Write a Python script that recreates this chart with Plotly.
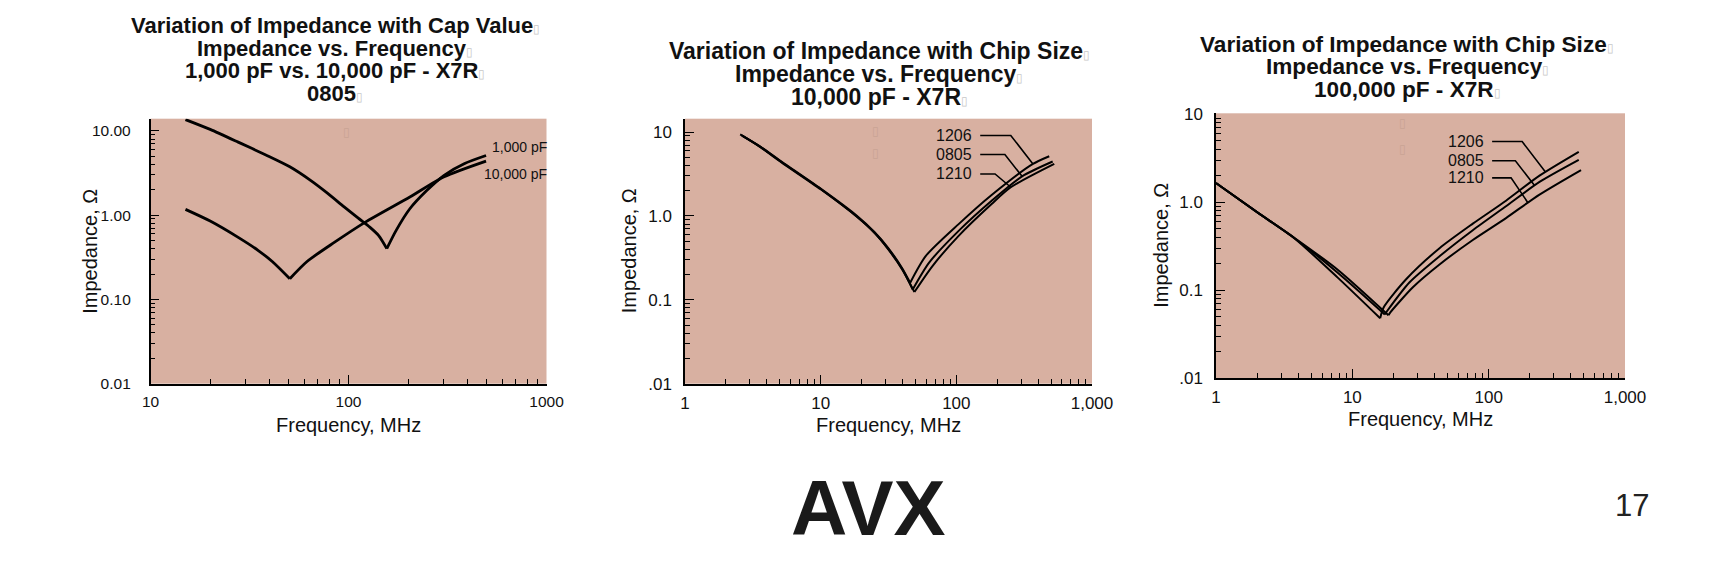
import numpy as np
import plotly.graph_objects as go

W, H = 1724, 564
PINK = "#D8B0A1"
FONT = "Liberation Sans, Arial, Helvetica, sans-serif"

# ---------------- data ----------------
# Chart 1 : 1,000 pF vs 10,000 pF, 0805
c1_freq_1000pF = [15.0, 20, 27.7, 38, 50.5, 64, 78.2, 95, 112, 128, 142, 156, 174, 204, 249, 304, 386, 495]
c1_z_1000pF = [13.6, 10.4, 7.35, 5.2, 3.74, 2.6, 1.82, 1.25, 0.92, 0.72, 0.57, 0.40, 0.66, 1.19, 1.97, 2.97, 4.1, 5.1]
c1_freq_10000pF = [15.0, 20, 27.7, 35, 41.3, 50.5, 61.5, 84.7, 121, 204, 304, 495]
c1_z_10000pF = [1.17, 0.85, 0.544, 0.38, 0.28, 0.176, 0.28, 0.474, 0.82, 1.64, 2.85, 4.38]

# Chart 2 : 10,000 pF X7R by chip size
c2_freq_1206 = [2.55, 3.5, 5.2, 10, 18.3, 25, 31.3, 39.8, 45.7, 59.6, 104, 182, 367, 484]
c2_z_1206 = [9.4, 6.9, 4.4, 2.12, 1.02, 0.64, 0.42, 0.24, 0.16, 0.334, 0.80, 1.78, 4.18, 5.16]
c2_freq_0805 = [2.6, 3.5, 5.2, 10, 18.3, 25, 31.3, 39.8, 47.7, 63, 104, 182, 305, 513]
c2_z_0805 = [9.2, 6.85, 4.34, 2.1, 1.0, 0.63, 0.41, 0.235, 0.133, 0.278, 0.665, 1.52, 2.97, 4.46]
c2_freq_1210 = [2.65, 3.5, 5.2, 10, 18.3, 25, 31.3, 39.8, 49.1, 66.7, 104, 182, 252, 527]
c2_z_1210 = [9.0, 6.8, 4.3, 2.08, 0.99, 0.625, 0.405, 0.232, 0.124, 0.253, 0.58, 1.39, 2.2, 4.18]

# Chart 3 : 100,000 pF X7R by chip size
c3_freq_1206 = [1, 2, 3.77, 7.85, 16.0, 17, 24.9, 43.6, 76.5, 134, 236, 458]
c3_z_1206 = [1.65, 0.77, 0.387, 0.138, 0.048, 0.064, 0.134, 0.30, 0.57, 1.04, 2.0, 3.73]
c3_freq_0805 = [1, 2, 3.77, 7.85, 17.3, 18.0, 26.3, 43.6, 76.5, 134, 236, 458]
c3_z_0805 = [1.65, 0.77, 0.39, 0.157, 0.053, 0.058, 0.123, 0.243, 0.48, 0.9, 1.7, 3.03]
c3_freq_1210 = [1, 2, 3.77, 7.85, 18.4, 19, 27.8, 43.6, 76.5, 134, 236, 476]
c3_z_1210 = [1.65, 0.77, 0.392, 0.17, 0.052, 0.056, 0.108, 0.196, 0.372, 0.66, 1.22, 2.32]

# labels / leader lines
c1_labels = ["1,000 pF", "10,000 pF"]
c1_label_freq = [1000, 1000]
c1_label_z = [6.46, 3.06]

size_labels = ["1206", "0805", "1210"]
c2_label_freq = 136
c2_label_z = [9.12, 5.41, 3.17]
c2_leader_start = 150
c2_leader_knee = [252, 228, 193]
c2_leader_end = [367, 305, 252]

c3_label_freq = 95.8
c3_label_z = [4.89, 2.96, 1.89]
c3_leader_start = 106
c3_leader_knee = [176, 157, 146]
c3_leader_end = [261, 217, 194]

titles = [
    ["Variation of Impedance with Cap Value", "Impedance vs. Frequency",
     "1,000 pF vs. 10,000 pF - X7R", "0805"],
    ["Variation of Impedance with Chip Size", "Impedance vs. Frequency", "10,000 pF - X7R"],
    ["Variation of Impedance with Chip Size", "Impedance vs. Frequency", "100,000 pF - X7R"],
]
x_ticks = [[10, 100, 1000], [1, 10, 100, 1000], [1, 10, 100, 1000]]
x_ticktext = [["10", "100", "1000"], ["1", "10", "100", "1,000"], ["1", "10", "100", "1,000"]]
y_ticks = [0.01, 0.1, 1, 10]
y_ticktext = [["0.01", "0.10", "1.00", "10.00"], [".01", "0.1", "1.0", "10"], [".01", "0.1", "1.0", "10"]]

# ---------------- layout geometry (pixels) ----------------
panels = [
    dict(xpx=(150.6, 546.5), ypx=(118.7, 383.7), xr=[1, 3], yr=[-2, 1.144], ystand=15, tick=15.5,
         lab=14, ytitle=-60, tfont=22, tx=335, ty=[25.3, 48.4, 70.4, 93.5], tofu_in=[(341, 123)]),
    dict(xpx=(685, 1092), ypx=(118.7, 383.7), xr=[0, 3], yr=[-2, 1.16], ystand=8, tick=17,
         lab=16, ytitle=-56, tfont=23, tx=879.5, ty=[50.6, 73.7, 96.8], tofu_in=[(876, 122), (876, 144)]),
    dict(xpx=(1216, 1625), ypx=(113.3, 378.2), xr=[0, 3], yr=[-2, 1.01], ystand=8, tick=17,
         lab=16, ytitle=-55, tfont=22.6, tx=1407, ty=[44, 67, 90], tofu_in=[(1408, 114), (1408, 140)]),
]


def minor_vals(lo, hi):
    out = []
    for k in range(lo, hi):
        out += [m * 10 ** k for m in range(2, 10)]
    return out


def curve_at(freq, z, f):
    return float(10 ** np.interp(np.log10(f), np.log10(freq), np.log10(z)))


fig = go.Figure()
layout = dict(width=W, height=H, margin=dict(l=0, r=0, t=0, b=0, pad=0, autoexpand=False),
              paper_bgcolor="white", plot_bgcolor=PINK, showlegend=False,
              font=dict(family=FONT, color="#111"))
annotations = []
TOFU = '<span style="color:#c8c8c8;font-size:12px;font-weight:normal">\u25AF</span>'

for i, p in enumerate(panels):
    n = "" if i == 0 else str(i + 1)
    xd = [p["xpx"][0] / W, p["xpx"][1] / W]
    yd = [1 - p["ypx"][1] / H, 1 - p["ypx"][0] / H]
    common = dict(showline=True, linecolor="black", linewidth=1.5, mirror=False,
                  showgrid=False, zeroline=False, ticks="inside", ticklen=9,
                  tickwidth=1.2, tickcolor="black", type="log", automargin=False,
                  tickfont=dict(family=FONT, size=p["tick"], color="#111"))
    layout["xaxis" + n] = dict(common, domain=xd, range=p["xr"], anchor="y" + n,
                               tickvals=x_ticks[i], ticktext=x_ticktext[i],
                               ticklabelstandoff=3,
                               minor=dict(ticks="inside", ticklen=5, tickwidth=1,
                                          tickcolor="black",
                                          tickvals=minor_vals(int(p["xr"][0]), 3)))
    layout["yaxis" + n] = dict(common, domain=yd, range=p["yr"], anchor="x" + n,
                               tickvals=y_ticks, ticktext=y_ticktext[i],
                               ticklabelstandoff=p["ystand"],
                               minor=dict(ticks="inside", ticklen=5, tickwidth=1,
                                          tickcolor="black",
                                          tickvals=minor_vals(-2, 1)))
    for line, ty in zip(titles[i], p["ty"]):
        annotations.append(dict(text="<b>" + line + "</b>" + TOFU, x=p["tx"] / W, y=1 - ty / H,
                                xref="paper", yref="paper", xanchor="center", yanchor="middle",
                                showarrow=False, font=dict(family=FONT, size=p["tfont"], color="#111")))
    for (tx, ty) in p["tofu_in"]:
        annotations.append(dict(text="\u25AF", x=tx / W, y=1 - ty / H, xref="paper", yref="paper",
                                showarrow=False, font=dict(family="DejaVu Sans", size=12, color="#c9a394")))
    annotations.append(dict(text="Impedance, \u03A9", x=0, y=0.5, xref="x" + n + " domain",
                            yref="y" + n + " domain", xshift=p["ytitle"], textangle=-90,
                            xanchor="center", yanchor="middle", showarrow=False,
                            font=dict(family=FONT, size=20, color="#111")))
    annotations.append(dict(text="Frequency, MHz", x=0.5, y=0, xref="x" + n + " domain",
                            yref="y" + n + " domain", yshift=-41,
                            xanchor="center", yanchor="middle", showarrow=False,
                            font=dict(family=FONT, size=20, color="#111")))


# ---------------- curves ----------------
def add_line(x, y, n, width, smooth=False):
    fig.add_trace(go.Scatter(x=x, y=y, mode="lines", xaxis="x" + n, yaxis="y" + n,
                             line=dict(color="black", width=width,
                                       shape="spline" if smooth else "linear",
                                       smoothing=0.7),
                             hoverinfo="skip", showlegend=False))


def add_curve(freq, z, n, width):
    k = int(np.argmin(z))
    add_line(freq[:k + 1], z[:k + 1], n, width, smooth=True)
    add_line(freq[k:], z[k:], n, width, smooth=True)


add_curve(c1_freq_1000pF, c1_z_1000pF, "", 2.8)
add_curve(c1_freq_10000pF, c1_z_10000pF, "", 2.8)
for lab, fx, zy in zip(c1_labels, c1_label_freq, c1_label_z):
    annotations.append(dict(text=lab, x=np.log10(fx), y=np.log10(zy), xref="x", yref="y",
                            xanchor="right", yanchor="middle", showarrow=False, xshift=2,
                            font=dict(family=FONT, size=panels[0]["lab"], color="#111")))

c2_series = [(c2_freq_1206, c2_z_1206), (c2_freq_0805, c2_z_0805), (c2_freq_1210, c2_z_1210)]
c3_series = [(c3_freq_1206, c3_z_1206), (c3_freq_0805, c3_z_0805), (c3_freq_1210, c3_z_1210)]

for n, series, lf, lz, ls, lk, le, fs in [
    ("2", c2_series, c2_label_freq, c2_label_z, c2_leader_start, c2_leader_knee, c2_leader_end, panels[1]["lab"]),
    ("3", c3_series, c3_label_freq, c3_label_z, c3_leader_start, c3_leader_knee, c3_leader_end, panels[2]["lab"]),
]:
    for (f, z) in series:
        add_curve(f, z, n, 2.0)
    for k, lab in enumerate(size_labels):
        f, z = series[k]
        end_z = curve_at(f, z, le[k])
        add_line([ls, lk[k], le[k]], [lz[k], lz[k], end_z], n, 1.6)
        annotations.append(dict(text=lab, x=np.log10(lf), y=np.log10(lz[k]), xref="x" + n,
                                yref="y" + n, xanchor="right", yanchor="middle", showarrow=False,
                                font=dict(family=FONT, size=fs, color="#111")))

# ---------------- footer ----------------
annotations.append(dict(text="<b>AVX</b>", x=868 / W, y=1 - 507.5 / H, xref="paper", yref="paper",
                        xanchor="center", yanchor="middle", showarrow=False,
                        font=dict(family=FONT, size=78, color="#1a1a1a")))
annotations.append(dict(text="17", x=1632 / W, y=1 - 505 / H, xref="paper", yref="paper",
                        xanchor="center", yanchor="middle", showarrow=False,
                        font=dict(family=FONT, size=31, color="#222")))

layout["annotations"] = annotations
fig.update_layout(**layout)
fig.write_html("out.html", config={"displayModeBar": False},
               post_script="document.body.style.margin='0';document.body.style.overflow='hidden';")
